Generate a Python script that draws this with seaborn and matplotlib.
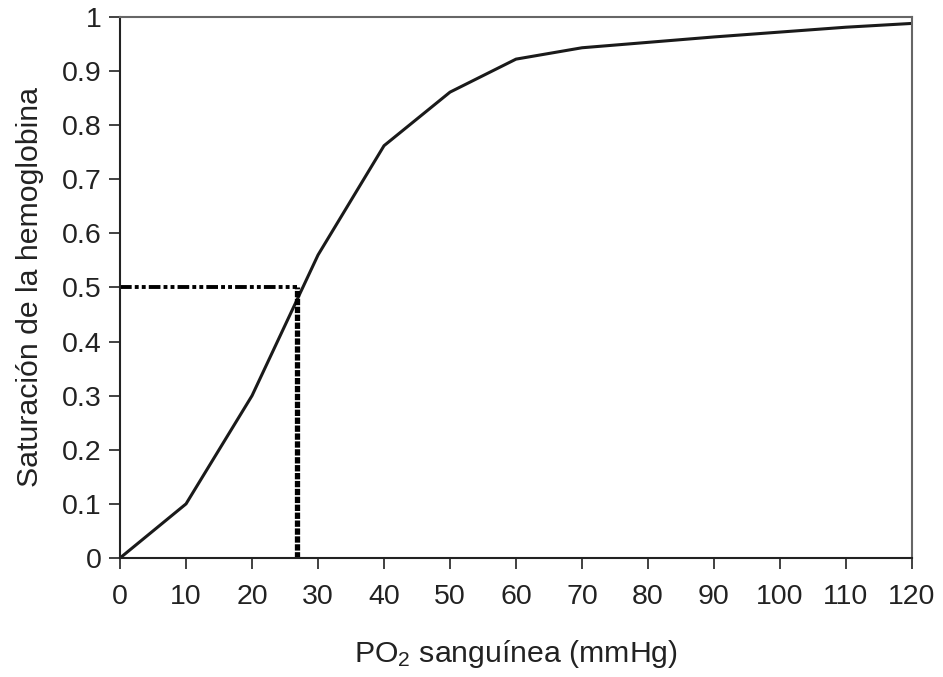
import matplotlib
matplotlib.use("Agg")
import matplotlib.pyplot as plt
import seaborn as sns
import pandas as pd

po2 = [0, 10, 20, 30, 40, 50, 60, 70, 80, 90, 100, 110, 120]
saturation = [0.0, 0.10, 0.30, 0.56, 0.762, 0.861, 0.922, 0.943, 0.953, 0.963, 0.972, 0.981, 0.988]
p50 = 26.8
s50 = 0.5
x_ticks = list(range(0, 121, 10))
y_ticks = [0, 0.1, 0.2, 0.3, 0.4, 0.5, 0.6, 0.7, 0.8, 0.9, 1]
y_tick_labels = ["0", "0.1", "0.2", "0.3", "0.4", "0.5", "0.6", "0.7", "0.8", "0.9", "1"]

sns.set_style("white")
plt.rcParams['font.family'] = ['Liberation Sans', 'DejaVu Sans']
plt.rcParams['mathtext.fontset'] = 'custom'
plt.rcParams['mathtext.rm'] = 'Liberation Sans'
plt.rcParams['mathtext.it'] = 'Liberation Sans:italic'

fig = plt.figure(figsize=(9.43, 6.77), dpi=100)
ax = fig.add_axes([0.1273, 0.1758, 0.8398, 0.7992])

df = pd.DataFrame({"po2": po2, "sat": saturation})
sns.lineplot(data=df, x="po2", y="sat", ax=ax, color="#1a1a1a", linewidth=2.2)

ax.plot([0, p50], [s50, s50], color="black", linewidth=2.8,
        linestyle=(0, (3, 0.8, 1, 0.8, 1, 0.8)))
ax.plot([p50, p50], [0, s50], color="black", linewidth=3.8,
        linestyle=(0, (1.2, 0.3)))

ax.set_xlim(0, 120)
ax.set_ylim(0, 1)
ax.set_xticks(x_ticks)
ax.set_xticklabels([str(t) for t in x_ticks])
ax.set_yticks(y_ticks)
ax.set_yticklabels(y_tick_labels)
ax.tick_params(axis="both", which="both", direction="out", length=8, width=1.3,
               color="#333333", labelsize=20.5, labelcolor="#222222",
               bottom=True, left=True)
ax.tick_params(axis="x", pad=11)
ax.tick_params(axis="y", pad=5)

for side in ["left", "bottom"]:
    ax.spines[side].set_color("#222222")
    ax.spines[side].set_linewidth(1.5)
for side in ["top", "right"]:
    ax.spines[side].set_color("#666666")
    ax.spines[side].set_linewidth(1.5)

ax.set_xlabel(r"PO$_\mathrm{2}$ sanguínea (mmHg)", fontsize=21.8, color="#222222", labelpad=20)
ax.set_ylabel("Saturación de la hemoglobina", fontsize=21.8, color="#222222", labelpad=13)

fig.savefig("out.png", dpi=100)
